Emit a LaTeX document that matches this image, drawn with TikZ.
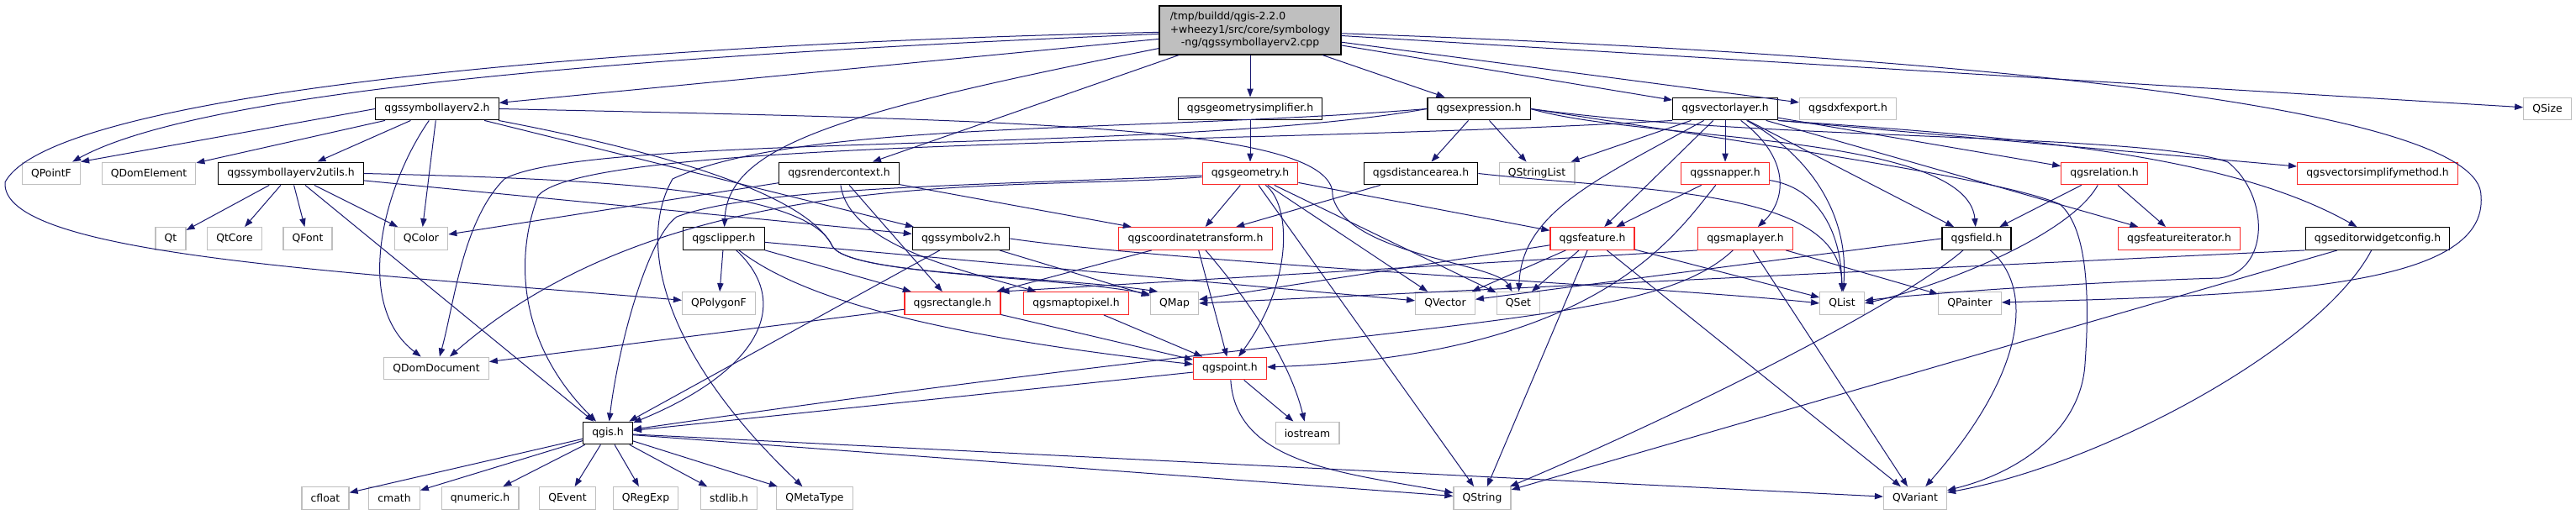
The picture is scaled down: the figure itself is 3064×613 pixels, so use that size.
\documentclass[tikz,border=0pt]{standalone}
\usepackage{fontspec}
\setmainfont{DejaVu Sans}
\usepackage{tikz}
\usetikzlibrary{arrows.meta}
\definecolor{azulflecha}{RGB}{25,25,112}
\definecolor{rojocorte}{RGB}{250,40,40}
\definecolor{grisext}{RGB}{191,191,191}
\definecolor{grisraiz}{RGB}{191,191,191}

\begin{document}
\begin{tikzpicture}[
  x=0.75pt, y=0.75pt,
  box/.style={rectangle, inner xsep=8pt, inner ysep=0pt, minimum height=20pt,
              font=\fontsize{9.3}{11.8}\selectfont, fill=white},
  hfile/.style={box, draw=black, line width=0.9pt},
  hcut/.style={box, draw=rojocorte, line width=0.9pt},
  sys/.style={box, draw=grisext, line width=0.9pt},
  inc/.style={draw=azulflecha, line width=0.75pt,
              -{Triangle[length=7.5pt,width=5.5pt]}}
]
\fill[white] (0,0) rectangle (3064,613);
\useasboundingbox (0,0) rectangle (3064,613);

% Nodo raiz
\node[hfile, fill=grisraiz, minimum width=162pt, minimum height=43.5pt, inner xsep=6pt]
  (main) at (1487,577)
  {\begin{tabular}{@{}l@{}}/tmp/buildd/qgis-2.2.0\\+wheezy1/src/core/symbology\\
   \multicolumn{1}{@{}c@{}}{-ng/qgssymbollayerv2.cpp}\end{tabular}};

% Fila 1
\node[hfile] (symlayer) at (520,483.5)  {qgssymbollayerv2.h};
\node[hfile] (geomsimp) at (1487,483.5) {qgsgeometrysimplifier.h};
\node[hfile] (expr)     at (1759,483.5) {qgsexpression.h};
\node[hfile] (vlayer)   at (2052,483.5) {qgsvectorlayer.h};
\node[sys]   (dxf)      at (2198,483.5) {qgsdxfexport.h};
\node[sys]   (qsize)    at (3030,483.5) {QSize};

% Fila 2
\node[sys]   (qpointf)     at (61,406.5)   {QPointF};
\node[sys]   (qdomelement) at (177,406.5)  {QDomElement};
\node[hfile] (utils)       at (346,406.5)  {qgssymbollayerv2utils.h};
\node[hfile] (rendctx)     at (998,406.5)  {qgsrendercontext.h};
\node[hcut]  (geometry)    at (1487,406.5) {qgsgeometry.h};
\node[hfile] (distarea)    at (1690,406.5) {qgsdistancearea.h};
\node[sys]   (qstringlist) at (1828,406.5) {QStringList};
\node[hcut]  (snapper)     at (2052,406.5) {qgssnapper.h};
\node[hcut]  (relation)    at (2503,406.5) {qgsrelation.h};
\node[hcut]  (vsimplify)   at (2828,406.5) {qgsvectorsimplifymethod.h};

% Fila 3
\node[sys]   (qt)       at (203,329)  {Qt};
\node[sys]   (qtcore)   at (279,329)  {QtCore};
\node[sys]   (qfont)    at (366,329)  {QFont};
\node[sys]   (qcolor)   at (501,329)  {QColor};
\node[hfile] (clipper)  at (861,329)  {qgsclipper.h};
\node[hfile] (symbolv2) at (1143,329) {qgssymbolv2.h};
\node[hcut]  (coordtr)  at (1422,329) {qgscoordinatetransform.h};
\node[hcut]  (feature)  at (1894,329) {qgsfeature.h};
\node[hcut]  (maplayer) at (2076,329) {qgsmaplayer.h};
\node[hfile] (field)    at (2351,329) {qgsfield.h};
\node[hcut]  (featit)   at (2592,329) {qgsfeatureiterator.h};
\node[hfile] (editw)    at (2828,329) {qgseditorwidgetconfig.h};

% Fila 4
\node[sys]  (qpolygonf)  at (855,252)  {QPolygonF};
\node[hcut] (rectangle)  at (1133,252) {qgsrectangle.h};
\node[hcut] (maptopixel) at (1280,252) {qgsmaptopixel.h};
\node[sys]  (qmap)       at (1397,252) {QMap};
\node[sys]  (qvector)    at (1719,252) {QVector};
\node[sys]  (qset)       at (1806,252) {QSet};
\node[sys]  (qlist)      at (2191,252) {QList};
\node[sys]  (qpainter)   at (2343,252) {QPainter};

% Filas 5 y 6
\node[sys]   (qdomdocument) at (519,174.5)  {QDomDocument};
\node[hcut]  (qgspoint)     at (1463,174.5) {qgspoint.h};
\node[hfile] (qgis)         at (723,97.5)   {qgis.h};
\node[sys]   (iostream)     at (1555,97.5)  {iostream};

% Fila 7
\node[sys] (cfloat)    at (387,20)  {cfloat};
\node[sys] (cmath)     at (469,20)  {cmath};
\node[sys] (qnumeric)  at (571,20)  {qnumeric.h};
\node[sys] (qevent)    at (675,20)  {QEvent};
\node[sys] (qregexp)   at (768,20)  {QRegExp};
\node[sys] (stdlib)    at (867,20)  {stdlib.h};
\node[sys] (qmetatype) at (969,20)  {QMetaType};
\node[sys] (qstring)   at (1763,20) {QString};
\node[sys] (qvariant)  at (2278,20) {QVariant};

% Flechas desde la raiz
\draw[inc] (main) -- (symlayer);
\draw[inc] (main) .. controls (700,545) and (230,500) .. (qpointf);
\draw[inc] (main) .. controls (700,560) and (60,500) .. (6,396)
                  .. controls (0,310) and (400,290) .. (qpolygonf);
\draw[inc] (main) -- (geomsimp);
\draw[inc] (main) -- (rendctx);
\draw[inc] (main) .. controls (1000,480) and (866,440) .. (clipper);
\draw[inc] (main) -- (expr);
\draw[inc] (main) -- (vlayer);
\draw[inc] (main) -- (dxf);
\draw[inc] (main) -- (qsize);
\draw[inc] (main) .. controls (2400,545) and (2951,480) .. (2951,380)
                  .. controls (2960,270) and (2700,262) .. (qpainter);

% qgssymbollayerv2.h
\draw[inc] (symlayer.west) -- (qpointf.north east);
\draw[inc] (symlayer) -- (qdomelement);
\draw[inc] (symlayer) -- (utils);
\draw[inc] (symlayer) -- (qcolor);
\draw[inc] (symlayer) .. controls (455,390) and (420,250) .. (qdomdocument);
\draw[inc] (symlayer) -- (symbolv2);
\draw[inc] (symlayer) .. controls (800,430) and (960,380) .. (990,320)
                      .. controls (1010,285) and (1250,285) .. (qmap.145);
\draw[inc] (symlayer.east) .. controls (1200,470) and (1590,465) .. (1585,380)
                           .. controls (1600,310) and (1780,300) .. (qset);

% qgssymbollayerv2utils.h
\draw[inc] (utils) -- (qt);
\draw[inc] (utils) -- (qtcore);
\draw[inc] (utils) -- (qfont);
\draw[inc] (utils) -- (qcolor);
\draw[inc] (utils) -- (qgis);
\draw[inc] (utils) -- (symbolv2);
\draw[inc] (utils.east) .. controls (700,400) and (960,390) .. (990,320)
                        .. controls (1010,285) and (1250,285) .. (qmap.160);

% qgssymbolv2.h
\draw[inc] (symbolv2) -- (qgis);
\draw[inc] (symbolv2) -- (qmap);
\draw[inc] (symbolv2.east) .. controls (1400,300) and (2000,270) .. (qlist.west);

% qgsrendercontext.h
\draw[inc] (rendctx) -- (qcolor);
\draw[inc] (rendctx) -- (coordtr);
\draw[inc] (rendctx) .. controls (1010,320) and (1150,290) .. (maptopixel);
\draw[inc] (rendctx) -- (rectangle);

% qgsclipper.h
\draw[inc] (clipper) .. controls (945,250) and (900,170) .. (qgis);
\draw[inc] (clipper) .. controls (950,260) and (1100,215) .. (qgspoint);
\draw[inc] (clipper) -- (rectangle);
\draw[inc] (clipper) -- (qvector);
\draw[inc] (clipper) -- (qpolygonf);

% qgsgeometry.h
\draw[inc] (geomsimp) -- (geometry);
\draw[inc] (geometry) -- (qstring);
\draw[inc] (geometry) -- (qvector);
\draw[inc] (geometry) .. controls (1200,385) and (800,420) .. (qdomdocument);
\draw[inc] (geometry) .. controls (1150,392) and (900,390) .. (805,355)
                      .. controls (770,330) and (735,200) .. (qgis);
\draw[inc] (geometry) .. controls (1535,370) and (1540,280) .. (qgspoint);
\draw[inc] (geometry) -- (coordtr);
\draw[inc] (geometry) -- (feature);
\draw[inc] (geometry) -- (qset);

% qgscoordinatetransform.h, qgsrectangle.h, qgsmaptopixel.h
\draw[inc] (coordtr) -- (qgspoint);
\draw[inc] (coordtr) -- (rectangle);
\draw[inc] (coordtr) .. controls (1490,250) and (1535,180) .. (iostream);
\draw[inc] (maptopixel) -- (qgspoint);
\draw[inc] (rectangle) -- (qgspoint);
\draw[inc] (rectangle) -- (qdomdocument);

% qgspoint.h
\draw[inc] (qgspoint) -- (qgis);
\draw[inc] (qgspoint) -- (iostream);
\draw[inc] (qgspoint) .. controls (1470,60) and (1600,50) .. (qstring);

% qgis.h
\foreach \dst in {cfloat,cmath,qnumeric,qevent,qregexp,stdlib,qmetatype,qstring,qvariant}
  \draw[inc] (qgis) -- (\dst);

% qgsexpression.h
\draw[inc] (expr) -- (qstringlist);
\draw[inc] (expr) -- (distarea);
\draw[inc] (expr.west) .. controls (1400,430) and (700,455) .. (600,400)
                       .. controls (550,350) and (540,250) .. (qdomdocument);
\draw[inc] (expr.west) .. controls (1350,455) and (950,470) .. (800,400)
                       .. controls (760,330) and (780,200) .. (qmetatype);
\draw[inc] (expr.east) .. controls (1950,445) and (2340,455) .. (field);
\draw[inc] (expr.east) .. controls (2100,445) and (2550,455) .. (2650,420)
                       .. controls (2700,380) and (2700,290) .. (2640,282)
                       .. controls (2500,278) and (2300,265) .. (qlist);
\draw[inc] (expr.east) .. controls (2100,440) and (2380,400) .. (2450,370)
                       .. controls (2485,340) and (2485,250) .. (2480,180)
                       .. controls (2475,100) and (2400,50) .. (qvariant);

% qgsdistancearea.h
\draw[inc] (distarea) -- (coordtr);
\draw[inc] (distarea.east) .. controls (1950,385) and (2190,390) .. (qlist);

% qgsvectorlayer.h
\draw[inc] (vlayer) -- (qstringlist);
\draw[inc] (vlayer) -- (feature);
\draw[inc] (vlayer) -- (snapper);
\draw[inc] (vlayer) .. controls (2130,425) and (2125,375) .. (maplayer);
\draw[inc] (vlayer) -- (field);
\draw[inc] (vlayer) -- (featit);
\draw[inc] (vlayer) -- (relation);
\draw[inc] (vlayer.south east) -- (vsimplify);
\draw[inc] (vlayer.south east) .. controls (2400,450) and (2650,430) .. (editw);
\draw[inc] (vlayer) .. controls (1900,400) and (1810,360) .. (qset);
\draw[inc] (vlayer) .. controls (2150,430) and (2200,360) .. (qlist);
\draw[inc] (vlayer.south west) .. controls (1500,440) and (700,450) .. (640,380)
                               .. controls (610,300) and (620,200) .. (qgis);

% qgssnapper.h
\draw[inc] (snapper) -- (feature);
\draw[inc] (snapper) .. controls (1990,330) and (1900,190) .. (qgspoint);
\draw[inc] (snapper) .. controls (2160,390) and (2190,340) .. (qlist);

% qgsfeature.h
\draw[inc] (feature) -- (qmap);
\draw[inc] (feature) -- (qstring);
\draw[inc] (feature) -- (qvariant);
\draw[inc] (feature) -- (qlist);
\draw[inc] (feature) -- (qvector);
\draw[inc] (feature) -- (qset);

% qgsmaplayer.h
\draw[inc] (maplayer.south west) -- (rectangle.north east);
\draw[inc] (maplayer) .. controls (1960,220) and (1700,240) .. (qgis);
\draw[inc] (maplayer) -- (qvariant);
\draw[inc] (maplayer) -- (qpainter);

% qgsfield.h, qgsrelation.h, qgseditorwidgetconfig.h
\draw[inc] (field) .. controls (2260,250) and (2000,120) .. (qstring);
\draw[inc] (field) .. controls (2420,270) and (2410,170) .. (qvariant);
\draw[inc] (field.west) -- (qvector);
\draw[inc] (relation) -- (featit);
\draw[inc] (relation) -- (field);
\draw[inc] (relation) .. controls (2460,330) and (2300,270) .. (qlist.east);
\draw[inc] (editw.south west) -- (qmap.east);
\draw[inc] (editw) -- (qstring);
\draw[inc] (editw) .. controls (2760,200) and (2500,60) .. (qvariant);
\end{tikzpicture}
\end{document}
